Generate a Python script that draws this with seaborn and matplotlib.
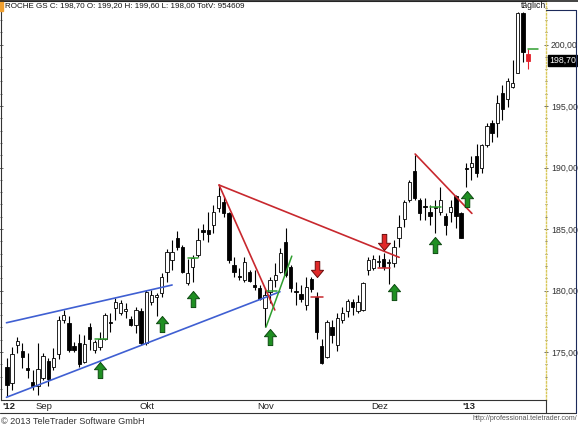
import numpy as np
import pandas as pd
import matplotlib
matplotlib.use('Agg')
import matplotlib.pyplot as plt
from matplotlib.path import Path
from matplotlib.lines import Line2D
from matplotlib.patches import Rectangle
import matplotlib.transforms as mtransforms
import seaborn as sns

# ROCHE GS, Tageskerzen (Handelstage)
opens = [173.8, 172.5, 175.6, 175.1, 173.7, 172.6, 172.2, 172.9, 174.3, 173.8,
         174.8, 177.6, 177.4, 175.5, 175.7, 174.2, 177.0, 175.2, 175.4, 176.1,
         177.45, 178.55, 178.2, 178.3, 177.7, 177.2, 178.3, 175.7, 179.1, 179.45,
         179.8, 181.5, 182.5, 184.25, 183.55, 180.6, 181.9, 182.9, 184.9, 184.9,
         185.35, 186.7, 187.2, 186.3, 182.05, 181.15, 180.85, 181.5, 180.45, 180.2,
         178.55, 179.9, 180.85, 181.5, 183.95, 181.9, 179.95, 179.7, 178.8, 180.9,
         179.5, 175.45, 174.6, 177.05, 175.55, 177.6, 178.3, 179.1, 178.3, 178.4,
         181.65, 181.8, 182.3, 182.6, 182.2, 182.2, 184.25, 185.85, 187.35, 189.75,
         187.35, 186.85, 186.35, 186.8, 186.4, 186.05, 186.4, 187.7, 186.3, 189.95,
         190.05, 190.9, 189.95, 191.85, 193.65, 193.6, 196.1, 195.55, 196.55, 197.7,
         202.55, 199.2]
highs = [174.5, 175.4, 176.2, 175.7, 174.9, 173.5, 175.7, 174.9, 174.5, 175.3,
         177.9, 178.4, 177.9, 175.8, 176.5, 176.4, 177.4, 176.0, 176.6, 178.2,
         178.2, 179.4, 179.2, 179.0, 177.9, 178.7, 178.6, 180.05, 180.05, 179.8,
         181.4, 183.4, 184.1, 184.8, 183.7, 182.6, 182.9, 185.05, 185.45, 186.4,
         186.95, 188.6, 187.65, 186.4, 182.75, 181.8, 182.75, 181.65, 181.65, 180.45,
         180.2, 181.1, 182.2, 183.45, 185.05, 182.05, 180.7, 180.45, 181.1, 181.1,
         179.9, 176.1, 177.6, 177.6, 178.15, 178.7, 179.35, 179.35, 179.6, 180.7,
         182.75, 182.9, 182.9, 183.05, 182.6, 184.1, 186.15, 187.35, 189.0, 191.0,
         187.5, 187.5, 186.95, 187.4, 188.45, 186.3, 187.35, 187.75, 186.4, 190.35,
         190.9, 191.95, 191.95, 193.6, 193.85, 195.9, 196.7, 197.25, 198.75, 202.65,
         202.65, 199.6]
lows = [171.4, 171.9, 174.9, 173.7, 172.9, 171.9, 171.5, 172.7, 172.2, 173.5,
        174.4, 177.4, 175.0, 175.0, 173.8, 174.1, 175.2, 174.9, 175.2, 176.0,
        176.65, 177.6, 178.0, 177.8, 177.1, 176.55, 175.55, 175.55, 178.8, 177.9,
        179.5, 180.7, 181.7, 183.3, 181.4, 180.45, 180.7, 182.75, 184.1, 183.95,
        184.65, 186.4, 186.0, 182.2, 181.1, 180.85, 180.7, 180.7, 180.05, 179.25,
        177.05, 178.95, 180.3, 181.4, 181.1, 179.9, 178.8, 179.1, 178.4, 179.9,
        176.1, 174.0, 174.5, 175.7, 175.05, 177.35, 177.85, 178.0, 178.15, 178.3,
        181.25, 181.65, 181.95, 181.65, 180.5, 181.95, 183.55, 185.2, 187.2, 187.35,
        185.75, 185.75, 185.35, 184.65, 186.15, 184.5, 185.6, 185.05, 184.25, 188.45,
        189.0, 189.25, 189.55, 191.7, 192.1, 192.5, 193.85, 194.95, 196.5, 197.65,
        198.6, 198.0]
closes = [172.3, 174.8, 175.9, 174.6, 173.5, 172.2, 173.6, 174.7, 172.8, 174.5,
          177.6, 178.0, 175.2, 175.2, 174.0, 175.65, 176.1, 175.8, 176.1, 178.0,
          177.4, 179.1, 179.0, 178.5, 177.2, 178.4, 175.7, 179.9, 179.6, 179.6,
          181.1, 183.15, 183.15, 183.55, 181.5, 181.4, 182.65, 184.1, 184.75, 184.6,
          186.4, 187.65, 186.3, 182.5, 181.5, 181.1, 182.35, 180.8, 180.3, 179.35,
          179.65, 180.85, 181.25, 183.05, 181.25, 180.2, 179.9, 179.35, 180.3, 180.1,
          176.65, 174.1, 177.45, 176.4, 177.75, 178.15, 179.15, 178.7, 179.1, 180.65,
          182.5, 182.6, 182.4, 181.95, 182.3, 183.55, 185.2, 187.2, 188.85, 187.5,
          186.3, 186.8, 186.05, 186.75, 187.4, 185.35, 186.8, 186.05, 184.3, 189.9,
          190.4, 189.55, 191.85, 193.35, 192.8, 195.25, 194.75, 197.05, 196.85, 202.55,
          199.4, 198.7]

# Monatsbeschriftung (Position in Handelstagen)
month_pos = [0.4, 7.2, 27.1, 50.2, 72.3, 89.5]
month_labels = ["'12", "Sep", "Okt", "Nov", "Dez", "'13"]

# Trendlinien: (Start-Tag, Start-Kurs, End-Tag, End-Kurs)
blue_lines = [(-0.1, 177.38, 32.0, 180.45), (-0.1, 171.32, 52.9, 179.9)]
red_lines = [(41.1, 188.58, 76.0, 182.7), (41.1, 188.58, 51.9, 178.42),
             (79.1, 191.1, 90.1, 186.27)]
green_lines = [(50.2, 177.03, 55.2, 182.8)]
# kurze Marken
green_marks = [(17.1, 19.3, 176.1), (35.0, 37.1, 182.62), (50.3, 52.4, 179.98),
               (82.0, 84.2, 186.8), (101.0, 103.0, 199.6)]
red_marks = [(59.0, 61.3, 179.5), (71.9, 74.2, 181.85)]

# Signalpfeile
buy_day = [18.0, 30.1, 36.1, 51.0, 75.0, 82.9, 89.1]
buy_price = [173.53, 177.28, 179.31, 176.22, 179.88, 183.7, 187.44]
sell_day = [60.0, 73.1]
sell_price = [181.75, 183.94]

df = pd.DataFrame({'open': opens, 'high': highs, 'low': lows, 'close': closes})
df['day'] = np.arange(len(df))

sns.set_style('white')
plt.rcParams['font.family'] = ['Liberation Sans', 'DejaVu Sans']

fig = plt.figure(figsize=(5.78, 4.29), dpi=100)
W, H = 578.0, 429.0
ax = fig.add_axes([1 / W, 1 - 400 / H, 545 / W, 399 / H])

# Kerzen
last = len(df) - 1
body = (df['close'] - df['open']).abs().clip(lower=0.07)
bottom = df[['open', 'close']].min(axis=1)
face = list(np.where(df['close'] >= df['open'], 'white', 'black'))
edge = ['black'] * len(df)
face[last] = '#e3202a'
edge[last] = '#e3202a'
wick_col = ['black'] * len(df)
wick_col[last] = '#e3202a'
ax.vlines(df['day'], df['low'], df['high'], colors=wick_col, lw=0.8, zorder=2)
ax.bar(df['day'], body, bottom=bottom, width=0.64, color=face,
       edgecolor=edge, linewidth=0.6, zorder=3)

def draw_lines(lines, color, lw):
    rows = []
    for k, (x0, y0, x1, y1) in enumerate(lines):
        rows.append({'x': x0, 'y': y0, 'id': k})
        rows.append({'x': x1, 'y': y1, 'id': k})
    d = pd.DataFrame(rows)
    sns.lineplot(data=d, x='x', y='y', units='id', estimator=None, sort=False,
                 color=color, lw=lw, ax=ax, zorder=4, legend=False)

draw_lines(blue_lines, '#3f5fd2', 1.2)
draw_lines(red_lines, '#c8282e', 1.2)
draw_lines(green_lines, '#2f9e2f', 1.1)
draw_lines([(a, p, b, p) for a, b, p in green_marks], '#2f9e2f', 1.1)
draw_lines([(a, p, b, p) for a, b, p in red_marks], '#c8282e', 1.1)

# Pfeil-Marker
up_arrow = Path([(-0.375, 0.05), (0, 0.5), (0.375, 0.05), (0.14, 0.05),
                 (0.14, -0.5), (-0.14, -0.5), (-0.14, 0.05), (-0.375, 0.05)],
                [Path.MOVETO] + [Path.LINETO] * 6 + [Path.CLOSEPOLY])
down_arrow = Path([(x, -y) for x, y in up_arrow.vertices], up_arrow.codes)

sns.scatterplot(x=buy_day, y=buy_price, marker=up_arrow, s=135, color='#1f8f22',
                edgecolor='#0c4a10', linewidth=0.7, ax=ax, zorder=6)
sns.scatterplot(x=sell_day, y=sell_price, marker=down_arrow, s=135, color='#e02828',
                edgecolor='#6a0a0a', linewidth=0.7, ax=ax, zorder=6)

ax.set_xlim(-1.16, 104.46)
ax.set_ylim(171.1, 203.54)
ax.set_xlabel('')
ax.set_ylabel('')

# Achsen
ax.set_xticks(month_pos)
ax.set_xticklabels(month_labels)
for lab in ax.get_xticklabels():
    if lab.get_text().startswith("'"):
        lab.set_fontweight('bold')
ax.tick_params(axis='x', length=0, pad=1.5, labelsize=6.8, colors='#222222')

ax.set_yticks([175, 180, 185, 190, 195, 200])
ax.set_yticklabels([f'{v:.2f}'.replace('.', ',') for v in [175, 180, 185, 190, 195, 200]])
ax.set_yticks(np.arange(172, 204, 1), minor=True)
ax.yaxis.set_ticks_position('both')
ax.tick_params(axis='y', which='both', left=True, right=True, labelleft=False,
               labelright=True, direction='inout', length=3, width=0.6,
               color='#555555', labelsize=6.3, labelcolor='#333333', pad=2)
ax.tick_params(axis='y', which='minor', length=2)

for s in ['top', 'left', 'bottom']:
    ax.spines[s].set_color('#333333')
    ax.spines[s].set_linewidth(0.8)
ax.spines['right'].set_color('#d9c85a')
ax.spines['right'].set_linestyle((0, (1, 1.5)))
ax.spines['right'].set_linewidth(1.0)

# Kurs-Kasten
tr = mtransforms.blended_transform_factory(ax.transAxes, ax.transData)
ax.text(1.006, closes[-1], f'{closes[-1]:.2f}'.replace('.', ','), transform=tr,
        ha='left', va='center', fontsize=6.3, color='white',
        bbox=dict(boxstyle='square,pad=0.12', fc='black', ec='black'))

# Rahmen
def fline(x0, y0, x1, y1, c='#333333', lw=0.8):
    fig.add_artist(Line2D([x0 / W, x1 / W], [1 - y0 / H, 1 - y1 / H], color=c, lw=lw))

fline(0, 0.5, 578, 0.5, '#222222', 1.2)
fline(0, 413, 576, 413)
fline(546, 400, 546, 413)
fline(576, 10, 576, 413, '#1c2a5a')
fline(546, 10, 576, 10, '#1c2a5a')
fig.add_artist(Rectangle((0, 1 - 11 / H), 3 / W, 11 / H, color='#f0a030',
                         transform=fig.transFigure))

head = 'ROCHE GS C: 198,70 O: 199,20 H: 199,60 L: 198,00 TotV: 954609'
fig.text(5 / W, 1 - 6 / H, head, fontsize=5.8, va='center', ha='left', color='#111111')
fig.text(534 / W, 1 - 6 / H, 'täglich', fontsize=6.2, va='center', ha='center', color='#111111')
fig.text(1 / W, 1 - 422 / H, '© 2013 TeleTrader Software GmbH', fontsize=6.6,
         va='center', ha='left', color='#333333')
fig.text(577 / W, 1 - 419 / H, 'http://professional.teletrader.com/', fontsize=5.0,
         va='center', ha='right', color='#555555')

fig.savefig('out.png', dpi=100)
